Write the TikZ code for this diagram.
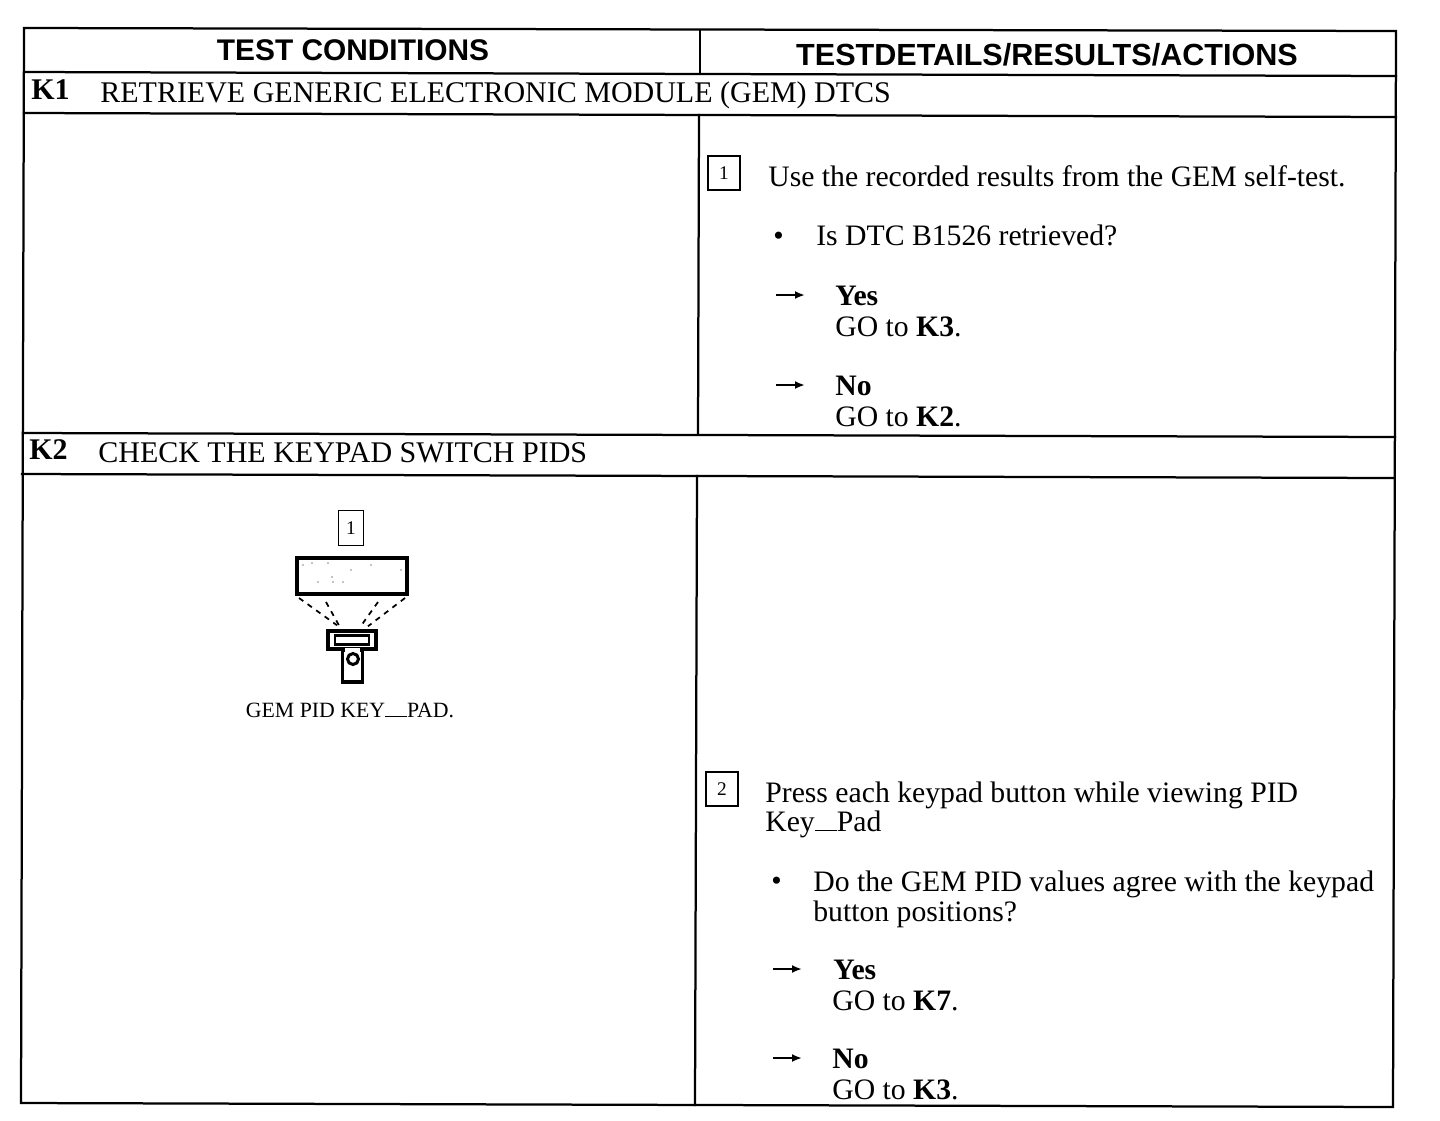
\documentclass[tikz,border=0pt]{standalone}
\usepackage{fontspec}
\setmainfont{Liberation Serif}
\setsansfont{Liberation Sans}
\usepackage{tikz}
\usetikzlibrary{positioning}
\usetikzlibrary{calc}
\usetikzlibrary{arrows.meta}

\tikzset{
    rule/.style={line width=.045cm, line cap=rect},
    head/.style={anchor=base, font=\fontsize{17}{17}\selectfont\sffamily\bfseries, inner sep=0},
    title/.style={anchor=base west, font=\fontsize{17.07}{17}\selectfont, inner sep=0},
    body/.style={anchor=base west, font=\fontsize{16.9}{17}\selectfont, inner sep=0},
    stepbox/.style={draw, line width=.035cm, minimum width=.64cm, minimum height=.68cm, inner sep=0, font=\fontsize{11}{11}\selectfont},
    go/.style={-{Latex[length=.2cm, width=.16cm]}, line width=.04cm},
    scanline/.style={dashed, line width=.035cm},
}

\begin{document}
\begin{tikzpicture}[x=.02cm, y=-.02cm]
    \useasboundingbox (0, 0) rectangle (1440, 1120);

    % table rules
    \draw[rule] (24, 28) -- (1396, 31) -- (1393, 1107) -- (21, 1103) -- cycle;
    \draw[rule] (24, 72) -- (1396, 76);
    \draw[rule] (24, 113) -- (1396, 117);
    \draw[rule] (23, 433) -- (1395, 437);
    \draw[rule] (22, 474) -- (1394, 478);
    \draw[rule] (700, 30) -- (700, 74);
    \draw[rule] (699, 115) -- (698, 434);
    \draw[rule] (697, 476) -- (695, 1105);

    % headers
    \node[head] (condhead) at (353, 60) {TEST CONDITIONS};
    \node[head, font=\fontsize{17.4}{17}\selectfont\sffamily\bfseries] (resulthead) at (1047, 65) {TESTDETAILS/RESULTS/ACTIONS};

    % K1
    \node[title] (kone) at (31, 99) {\textbf{K1}};
    \node[title] (konetext) at (100, 102) {RETRIEVE GENERIC ELECTRONIC MODULE (GEM) DTCS};
    \node[stepbox] (sone) at (724, 173) {1};
    \node[body] (sonetext) at (768, 186) {Use the recorded results from the GEM self-test.};
    \node[body] (bone) at (773, 245) {\textbullet};
    \node[body] (bonetext) at (816, 245) {Is DTC B1526 retrieved?};
    \coordinate (ayes) at (776, 295);
    \coordinate (ayesend) at (805, 295);
    \node[body] (yone) at (835, 305) {\textbf{Yes}};
    \node[body] (gone) at (835, 336) {GO to \textbf{K3}.};
    \coordinate (ano) at (776, 385);
    \coordinate (anoend) at (805, 385);
    \node[body] (none) at (835, 395) {\textbf{No}};
    \node[body] (gtwo) at (835, 426) {GO to \textbf{K2}.};
    \draw[go] (ayes) -- (ayesend);
    \draw[go] (ano) -- (anoend);

    % K2
    \node[title] (ktwo) at (29, 459) {\textbf{K2}};
    \node[title] (ktwotext) at (98, 462) {CHECK THE KEYPAD SWITCH PIDS};

    % scan tool picture
    \node[stepbox, minimum width=.5cm, minimum height=.7cm] (pone) at (351, 528) {1};
    \node[draw, line width=.08cm, minimum width=2.2cm, minimum height=.72cm, inner sep=0] (screen) at (352, 576) {};
    \foreach \px/\py in {303/565, 312/563, 328/563, 351/570, 371/565, 401/570, 332/577, 318/582, 333/582, 343/582}
        \fill (\px, \py) circle (.7);
    \node[draw, line width=.07cm, minimum width=.96cm, minimum height=.36cm, inner sep=0] (scanhead) at (352, 640) {};
    \node[draw, line width=.05cm, minimum width=.68cm, minimum height=.18cm, inner sep=0] (scanwin) at (352, 640) {};
    \node[draw, line width=.07cm, minimum width=.4cm, minimum height=.64cm, inner sep=0] (scanbody) at (352.5, 666) {};
    \fill[white] (345, 648) rectangle (360, 653);
    \node[draw, circle, line width=.06cm, minimum size=.22cm, inner sep=0] (scanknob) at (353, 659) {};
    \draw[scanline] ($(screen.south west)+(4, 2)$) -- ($(scanwin.north)+(-15, -9)$);
    \draw[scanline] ($(screen.south)+(-26, 6)$) -- ($(scanwin.north)+(-12, -7)$);
    \draw[scanline] ($(screen.south)+(26, 6)$) -- ($(scanwin.north)+(8, -7)$);
    \draw[scanline] ($(screen.south east)+(-4, 2)$) -- ($(scanwin.north)+(16, -8)$);
    \node[anchor=base, inner sep=0, font=\fontsize{12.4}{12.4}\selectfont] (pcap) at (350, 717) {GEM PID KEY\rule{.44cm}{.03cm}PAD.};

    \node[stepbox] (stwo) at (722, 789) {2};
    \node[body] (stwotext) at (765, 802) {Press each keypad button while viewing PID};
    \node[body] (stwomore) at (765, 831) {Key\rule{.44cm}{.03cm}Pad};
    \node[body] (btwo) at (771, 890) {\textbullet};
    \node[body] (btwotext) at (813, 891) {Do the GEM PID values agree with the keypad};
    \node[body] (btwomore) at (813, 921) {button positions?};
    \coordinate (byes) at (773, 969);
    \coordinate (byesend) at (802, 969);
    \node[body] (ytwo) at (833, 979) {\textbf{Yes}};
    \node[body] (gthree) at (832, 1010) {GO to \textbf{K7}.};
    \coordinate (bno) at (773, 1058);
    \coordinate (bnoend) at (802, 1058);
    \node[body] (ntwo) at (832, 1068) {\textbf{No}};
    \node[body] (gfour) at (832, 1099) {GO to \textbf{K3}.};
    \draw[go] (byes) -- (byesend);
    \draw[go] (bno) -- (bnoend);
\end{tikzpicture}
\end{document}
